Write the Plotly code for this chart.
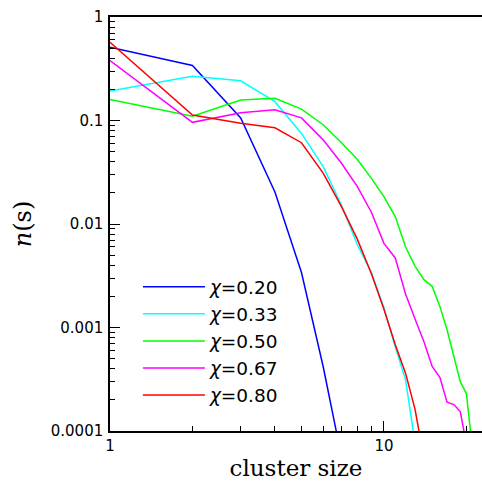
import plotly.graph_objects as go

sizes = list(range(1, 22))

labels = ["χ=0.20", "χ=0.33", "χ=0.50", "χ=0.67", "χ=0.80"]
colors = ["#0000ff", "#00ffff", "#00ff00", "#ff00ff", "#ff0000"]

n_020 = [0.51, 0.34, 0.106, 0.0204, 0.0034, 0.00042, 0.000056]
n_033 = [0.193, 0.267, 0.242, 0.152, 0.075, 0.0358, 0.0152, 0.0063, 0.0034,
         0.00155, 0.00065, 0.00031, 0.000075]
n_050 = [0.16, 0.11, 0.158, 0.164, 0.129, 0.091, 0.061, 0.042, 0.0276, 0.0184,
         0.0118, 0.006, 0.0039, 0.0029, 0.0025, 0.0016, 0.00095, 0.00052,
         0.0003, 0.00023, 0.00007]
n_067 = [0.38, 0.096, 0.119, 0.127, 0.106, 0.065, 0.0386, 0.023, 0.013, 0.0065,
         0.0047, 0.0021, 0.0012, 0.00073, 0.00042, 0.00033, 0.00019, 0.00018,
         0.000154, 0.000074]
n_080 = [0.57, 0.113, 0.094, 0.085, 0.061, 0.031, 0.0147, 0.0071, 0.0033,
         0.0015, 0.00068, 0.00036, 0.00016, 0.000054]

series = [n_020, n_033, n_050, n_067, n_080]

y_ticks = [1, 0.1, 0.01, 0.001, 0.0001]
y_tick_text = ["1", "0.1", "0.01", "0.001", "0.0001"]
x_ticks = [1, 10]
x_tick_text = ["1", "10"]

fig = go.Figure()
for lab, col, vals in zip(labels, colors, series):
    fig.add_trace(go.Scatter(
        x=sizes[:len(vals)], y=vals, mode="lines",
        name="<i>χ</i>=" + lab.split("=")[1],
        line=dict(color=col, width=1.5),
    ))

fig.update_layout(
    width=482, height=481,
    margin=dict(l=110, r=0, t=17, b=50, autoexpand=False),
    paper_bgcolor="white", plot_bgcolor="white",
    showlegend=True,
    legend=dict(x=0.075, y=0.393, xanchor="left", yanchor="top",
                font=dict(family="DejaVu Sans", size=18.5, color="black"),
                bgcolor="rgba(0,0,0,0)", tracegroupgap=0, itemwidth=62),
    font=dict(family="DejaVu Sans", color="black"),
)
fig.update_xaxes(
    type="log", range=[0, 1.358],
    tickvals=x_ticks, ticktext=x_tick_text,
    ticks="inside", ticklen=10, tickwidth=1, tickcolor="black",
    minor=dict(ticks="inside", ticklen=5, tickwidth=1, tickcolor="black",
               tickvals=[2, 3, 4, 5, 6, 7, 8, 9, 20], showgrid=False),
    showline=True, linecolor="black", linewidth=1.5, mirror=True,
    showgrid=False, zeroline=False,
    tickfont=dict(size=15, family="DejaVu Sans"),
    title=dict(text="cluster size", font=dict(family="DejaVu Serif", size=23),
               standoff=6),
)
minor_y = []
for e in range(-4, 0):
    for m in range(2, 10):
        minor_y.append(m * 10 ** e)
fig.update_yaxes(
    type="log", range=[-4, 0],
    tickvals=y_ticks, ticktext=y_tick_text,
    ticks="inside", ticklen=10, tickwidth=1, tickcolor="black",
    minor=dict(ticks="inside", ticklen=5, tickwidth=1, tickcolor="black",
               tickvals=minor_y, showgrid=False),
    showline=True, linecolor="black", linewidth=1.5, mirror=False,
    showgrid=False, zeroline=False,
    tickfont=dict(size=15, family="DejaVu Sans"),
    ticklabelstandoff=2,
    title=dict(text="<i>n</i>(s)", font=dict(family="DejaVu Serif", size=24),
               standoff=12),
)

fig.write_html("out.html")
